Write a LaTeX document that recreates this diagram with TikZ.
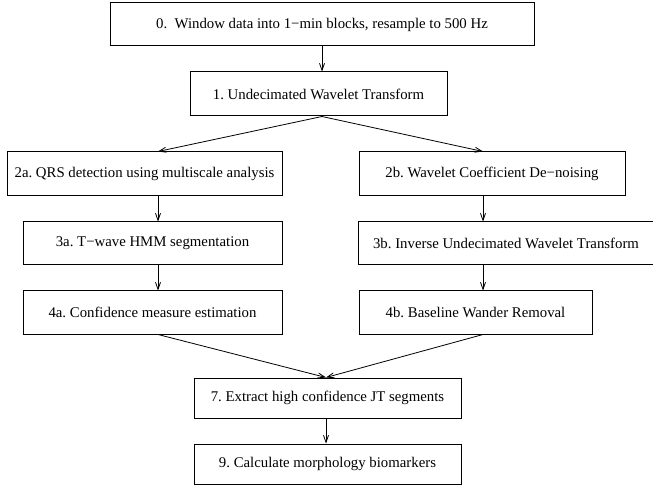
\documentclass[tikz,border=0pt]{standalone}
\usepackage{fontspec}
\setmainfont{Liberation Serif}
\usetikzlibrary{arrows.meta}

\tikzset{
  blockbox/.style={draw, line width=1pt, inner sep=0pt, minimum height=43pt,
    font=\fontsize{14.8}{17}\selectfont},
  flowarrow/.style={-{Straight Barb[length=7pt,width=5pt]}, line width=0.8pt},
}

\begin{document}
\frenchspacing
\begin{tikzpicture}[x=1pt,y=-1pt]
    \useasboundingbox (0,0) rectangle (653,486);

    % Columns for the connectors
    \coordinate (mcol) at (322,0);
    \coordinate (lcol) at (158,0);
    \coordinate (rcol) at (483,0);
    \coordinate (bcol) at (326,0);

    % Boxes
    \node[blockbox, minimum width=424pt] (b0) at (322,24.5) {0.\ \ Window data into 1−min blocks, resample to 500 Hz};
    \node[blockbox, minimum width=257pt, minimum height=44pt] (b1) at (318.5,94) {1. Undecimated Wavelet Transform};
    \node[blockbox, minimum width=275pt, minimum height=44pt] (b2a) at (144.5,174) {2a. QRS detection using multiscale analysis};
    \node[blockbox, minimum width=266pt, minimum height=44pt] (b2b) at (492,174) {2b. Wavelet Coefficient De−noising};
    \node[blockbox, minimum width=259pt] (b3a) at (152.5,243.5) {3a. T−wave HMM segmentation};
    \node[blockbox, minimum width=296pt] (b3b) at (506,243.5) {3b. Inverse Undecimated Wavelet Transform};
    \node[blockbox, minimum width=259pt] (b4a) at (152.5,312.5) {4a. Confidence measure estimation};
    \node[blockbox, minimum width=233pt] (b4b) at (475.5,312.5) {4b. Baseline Wander Removal};
    \node[blockbox, minimum width=267pt, minimum height=40pt] (b7) at (327.5,398) {7. Extract high confidence JT segments};
    \node[blockbox, minimum width=267pt, minimum height=40pt] (b9) at (327.5,464) {9. Calculate morphology biomarkers};

    % Arrows
    \draw[flowarrow] (b0.south -| mcol) -- (b1.north -| mcol);
    \draw[flowarrow] (b1.south -| mcol) -- (b2a.north -| lcol);
    \draw[flowarrow] (b1.south -| mcol) -- (b2b.north -| rcol);
    \draw[flowarrow] (b2a.south -| lcol) -- (b3a.north -| lcol);
    \draw[flowarrow] (b3a.south -| lcol) -- (b4a.north -| lcol);
    \draw[flowarrow] (b2b.south -| rcol) -- (b3b.north -| rcol);
    \draw[flowarrow] (b3b.south -| rcol) -- (b4b.north -| rcol);
    \draw[flowarrow] (b4a.south -| lcol) -- (b7.north -| bcol);
    \draw[flowarrow] (b4b.south -| rcol) -- (b7.north -| bcol);
    \draw[flowarrow] (b7.south -| bcol) -- (b9.north -| bcol);
\end{tikzpicture}
\end{document}
